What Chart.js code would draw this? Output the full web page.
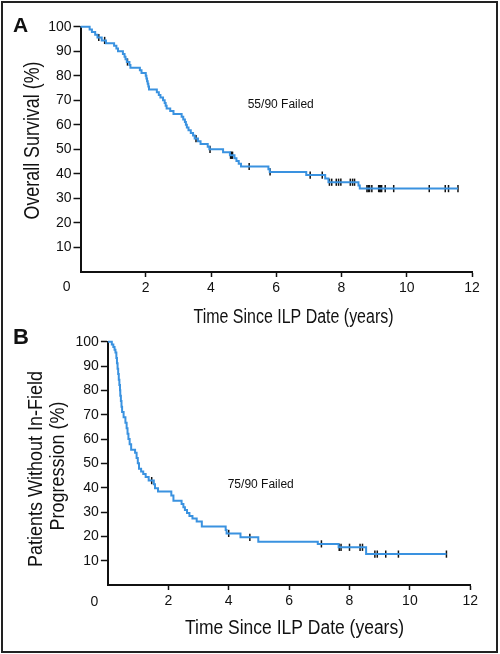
<!DOCTYPE html>
<html>
<head>
<meta charset="utf-8">
<script src="https://cdn.jsdelivr.net/npm/chart.js@4"></script>
<style>
  body { margin: 0; background: #fff; }
  #wrap { position: relative; width: 500px; height: 654px; }
  #frame { position: absolute; left: 1px; top: 1px; width: 497px; height: 652px; box-sizing: border-box; border: 2px solid #222; }
  canvas { position: absolute; left: 0; }
</style>
</head>
<body>
<div id="wrap">
  <canvas id="chartA" width="500" height="327" style="top:0"></canvas>
  <canvas id="chartB" width="500" height="327" style="top:327px"></canvas>
  <div id="frame"></div>
</div>
<script>
// panel A - overall survival, step points (years, %)
var timesA = [0, 0.28, 0.35, 0.45, 0.52, 0.65, 0.78, 1.03, 1.10, 1.15, 1.30, 1.35, 1.38, 1.42, 1.50,
  1.53, 1.82, 1.87, 2.00, 2.02, 2.04, 2.06, 2.08, 2.10, 2.34, 2.40, 2.45, 2.53, 2.58, 2.61,
  2.64, 2.75, 2.85, 3.10, 3.15, 3.20, 3.23, 3.26, 3.31, 3.38, 3.45, 3.50, 3.60, 3.68, 3.90,
  3.95, 4.37, 4.58, 4.72, 4.78, 4.85, 4.92, 5.76, 5.80, 6.92, 7.50, 7.60, 8.52, 8.56, 11.57];
var survA = [100, 98.9, 97.8, 96.7, 95.6, 94.4, 93.3, 92.2, 91.1, 90.0, 88.9, 87.8, 86.7, 85.6, 84.4,
  83.3, 82.2, 81.1, 80.0, 78.9, 77.8, 76.7, 75.6, 74.4, 73.3, 72.2, 71.1, 70.0, 68.9, 67.8,
  66.7, 65.6, 64.4, 63.3, 62.2, 61.1, 60.0, 58.9, 57.8, 56.7, 55.6, 54.4, 53.3, 52.2, 51.1,
  50.0, 48.8, 47.6, 46.4, 45.3, 44.1, 43.0, 41.9, 40.8, 39.5, 38.1, 36.6, 35.3, 34.0, 34.0];
// censored patients (years)
var censorA = [0.56, 0.74, 1.44, 3.54, 3.97, 4.60, 4.62, 4.64, 4.66, 5.17, 5.81, 7.04, 7.41, 7.63,
  7.70, 7.84, 7.91, 7.98, 8.27, 8.34, 8.40, 8.78, 8.82, 8.86, 8.93, 9.14, 9.17, 9.20, 9.23,
  9.34, 9.60, 10.69, 11.18, 11.28, 11.57];

// panel B - patients without in-field progression
var timesB = [0, 0.13, 0.18, 0.22, 0.25, 0.28, 0.30, 0.32, 0.34, 0.36, 0.38, 0.40, 0.41, 0.43, 0.45,
  0.47, 0.52, 0.58, 0.62, 0.65, 0.68, 0.72, 0.77, 0.90, 0.95, 0.99, 1.03, 1.10, 1.17, 1.25,
  1.35, 1.52, 1.56, 1.66, 2.10, 2.17, 2.44, 2.50, 2.55, 2.62, 2.70, 2.80, 2.94, 3.11, 3.90,
  3.93, 4.39, 4.98, 6.95, 7.64, 8.55, 11.21];
var survB = [100, 98.9, 97.8, 96.7, 95.6, 93.3, 91.1, 88.9, 86.7, 84.4, 82.2, 80.0, 77.8, 75.6, 73.3,
  71.1, 68.9, 66.7, 64.4, 62.2, 60.0, 57.8, 55.6, 54.4, 52.2, 50.0, 47.8, 46.7, 45.6, 44.4,
  42.9, 41.4, 39.8, 38.4, 36.8, 34.6, 33.3, 32.0, 30.8, 29.6, 28.4, 27.3, 26.1, 24.0, 22.6,
  21.2, 19.6, 17.8, 16.9, 15.5, 12.7, 12.7];
var censorB = [1.45, 4.00, 4.70, 7.07, 7.66, 7.72, 8.00, 8.35, 8.43, 8.84, 8.92, 9.20, 9.62, 11.21];

var xTicks = [0, 2, 4, 6, 8, 10, 12];
var yTicks = [10, 20, 30, 40, 50, 60, 70, 80, 90, 100];

var SANS = "'Liberation Sans', Arial, sans-serif";
var BLUE = '#3a92e0';
var INK = '#111';

// survival value at time t (step function)
var stepValue = function(times, surv, t) {
  var v = surv[0];
  for (var i = 0; i < times.length; i++) {
    if (times[i] <= t + 1e-9) v = surv[i];
  }
  return v;
};

var toPoints = function(times, surv) {
  return times.map(function(t, i) { return {x: t, y: surv[i]}; });
};

var censorPoints = function(cens, times, surv) {
  return cens.map(function(t) { return {x: t, y: stepValue(times, surv, t)}; });
};

// text drawn on the canvas: letters, titles, notes
// w = wanted width, text squeezed sideways to look condensed
var textPlugin = {
  id: 'panelText',
  afterDraw: function(chart, args, opts) {
    var ctx = chart.ctx;
    ctx.save();
    ctx.fillStyle = INK;
    opts.items.forEach(function(it) {
      ctx.save();
      ctx.font = it.font;
      ctx.textAlign = it.align || 'left';
      ctx.textBaseline = it.baseline || 'alphabetic';
      ctx.translate(it.x, it.y);
      if (it.rotate) ctx.rotate(it.rotate);
      if (it.w) ctx.scale(it.w / ctx.measureText(it.text).width, 1);
      ctx.fillText(it.text, 0, 0);
      ctx.restore();
    });
    ctx.restore();
  }
};

var makeChart = function(id, times, surv, cens, geo, items) {
  var ctx = document.getElementById(id).getContext('2d');
  return new Chart(ctx, {
    type: 'line',
    data: {
      datasets: [
        {
          data: toPoints(times, surv),
          borderColor: BLUE,
          borderWidth: 2,
          stepped: true,
          pointRadius: 0,
          fill: false,
          clip: false
        },
        {
          data: censorPoints(cens, times, surv),
          showLine: false,
          pointStyle: 'line',
          rotation: 90,
          pointRadius: 3.6,
          borderColor: INK,
          borderWidth: 1.5,
          clip: false
        }
      ]
    },
    options: {
      responsive: false,
      animation: false,
      events: [],
      layout: {padding: {left: 0, top: geo.top, right: geo.right, bottom: 0}},
      plugins: {legend: {display: false}, tooltip: {enabled: false}, panelText: {items: items}},
      scales: {
        x: {
          type: 'linear', min: 0, max: 12,
          afterBuildTicks: function(s) { s.ticks = xTicks.map(function(v) { return {value: v}; }); },
          afterFit: function(s) { s.height = geo.xh; },
          ticks: {
            autoSkip: false, maxRotation: 0, padding: 3, color: INK,
            font: {family: SANS, size: 14},
            callback: function(v) { return v === 0 ? '' : v; }
          },
          grid: {
            drawOnChartArea: false, tickLength: 5, tickWidth: 1.5,
            tickColor: function(c) { return c.tick && c.tick.value === 0 ? 'rgba(0,0,0,0)' : INK; }
          },
          border: {color: INK, width: 2}
        },
        y: {
          min: 0, max: 100,
          afterBuildTicks: function(s) { s.ticks = [0].concat(yTicks).map(function(v) { return {value: v}; }); },
          afterFit: function(s) { s.width = geo.left; },
          ticks: {
            autoSkip: false, padding: 2, color: INK,
            font: {family: SANS, size: 14},
            callback: function(v) { return v === 0 ? '' : v; }
          },
          grid: {
            drawOnChartArea: false, tickLength: 7, tickWidth: 1.5,
            tickColor: function(c) { return c.tick && c.tick.value === 0 ? 'rgba(0,0,0,0)' : INK; }
          },
          border: {color: INK, width: 2}
        }
      }
    },
    plugins: [textPlugin]
  });
};

var mainApp = function() {
  makeChart('chartA', timesA, survA, censorA,
    {left: 80.5, top: 26.7, right: 28, xh: 55},
    [
      {text: 'A', font: 'bold 21px ' + SANS, x: 13, y: 31.5},
      {text: '0', font: '14px ' + SANS, x: 66.7, y: 287, align: 'center', baseline: 'middle'},
      {text: 'Time Since ILP Date (years)', font: '20px ' + SANS, x: 293.5, y: 323, align: 'center', w: 200},
      {text: 'Overall Survival (%)', font: '22px ' + SANS, x: 38.5, y: 140.5, align: 'center', rotate: -Math.PI / 2, w: 158},
      {text: '55/90 Failed', font: '12px ' + SANS, x: 247.7, y: 108.3}
    ]);
  makeChart('chartB', timesB, survB, censorB,
    {left: 107.9, top: 14.7, right: 29.7, xh: 69},
    [
      {text: 'B', font: 'bold 22px ' + SANS, x: 13, y: 17},
      {text: '0', font: '14px ' + SANS, x: 94.3, y: 274.7, align: 'center', baseline: 'middle'},
      {text: 'Time Since ILP Date (years)', font: '20px ' + SANS, x: 294.5, y: 307, align: 'center', w: 219},
      {text: 'Patients Without In-Field', font: '21px ' + SANS, x: 41.5, y: 142, align: 'center', rotate: -Math.PI / 2, w: 196},
      {text: 'Progression (%)', font: '21px ' + SANS, x: 63.5, y: 139, align: 'center', rotate: -Math.PI / 2, w: 129},
      {text: '75/90 Failed', font: '12px ' + SANS, x: 227.7, y: 160.7}
    ]);
};

window.onload = mainApp;
</script>
</body>
</html>
